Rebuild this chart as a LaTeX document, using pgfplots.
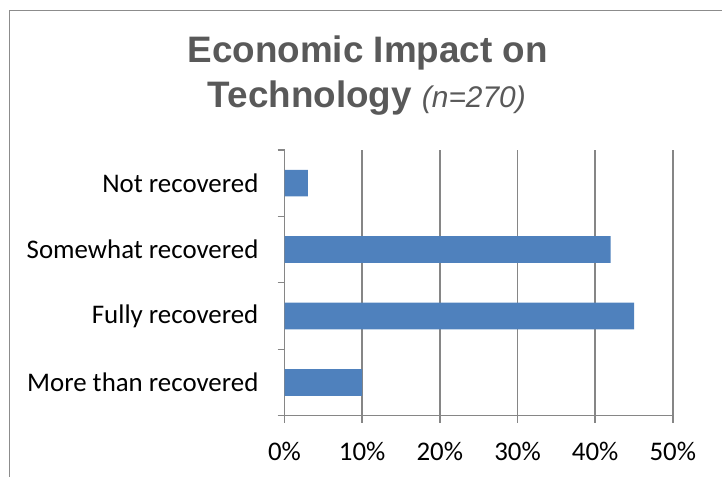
\documentclass[border=0pt]{standalone}
\usepackage{pgfplots}
\pgfplotsset{compat=1.18}
\usepackage{fontspec}
\setmainfont{Carlito}
\newfontfamily\titlefont{Liberation Sans}
\definecolor{barblue}{HTML}{4F81BD}
\definecolor{axisgray}{HTML}{868686}
\definecolor{titlegray}{HTML}{595959}
\definecolor{framegray}{HTML}{8C8C8C}

\begin{document}
\begin{tikzpicture}[x=1bp,y=1bp]
% outer chart frame (right and bottom edges fall outside the picture)
\draw[framegray, line width=1bp] (10,0) -- (10,466) -- (722,466);

\node[anchor=base, text=titlegray] at (368,414)
  {\titlefont\bfseries\fontsize{37}{40}\selectfont Economic Impact on};
\node[anchor=base, text=titlegray] at (367,369)
  {\titlefont\fontsize{37}{40}\selectfont\textbf{Technology} {\fontsize{30}{32}\selectfont\itshape (n=270)}};

\begin{axis}[
    at={(284.7bp,61bp)}, anchor=south west,
    scale only axis,
    width=388.6bp, height=266bp,
    xbar, bar shift=0pt, bar width=26.7bp,
    xmin=0, xmax=50,
    ymin=0.5, ymax=4.5,
    axis lines*=left,
    axis line style={axisgray, line width=1.4bp},
    tick align=outside,
    major tick length=7bp,
    tick style={axisgray, line width=1.4bp},
    xtick={0,10,...,50},
    xticklabel={\pgfmathprintnumber{\tick}\%},
    xmajorgrids,
    grid style={axisgray, line width=1.4bp},
    ytick={0.5,1.5,...,4.5},
    yticklabels={},
    extra y ticks={1,2,3,4},
    extra y tick labels={More than recovered, Fully recovered, Somewhat recovered, Not recovered},
    extra y tick style={major tick length=0pt, ymajorgrids=false},
    tick label style={font=\fontsize{27}{30}\selectfont, text=black},
    /pgf/number format/assume math mode=true,
    y tick label style={inner sep=0pt, xshift=-26bp},
    x tick label style={inner sep=0pt, yshift=-19bp},
]
\addplot[fill=barblue, draw=none] coordinates {
    (10,1)
    (45,2)
    (42,3)
    (3,4)
};
\end{axis}
\useasboundingbox (0,0) rectangle (722,477);
\end{tikzpicture}
\end{document}
